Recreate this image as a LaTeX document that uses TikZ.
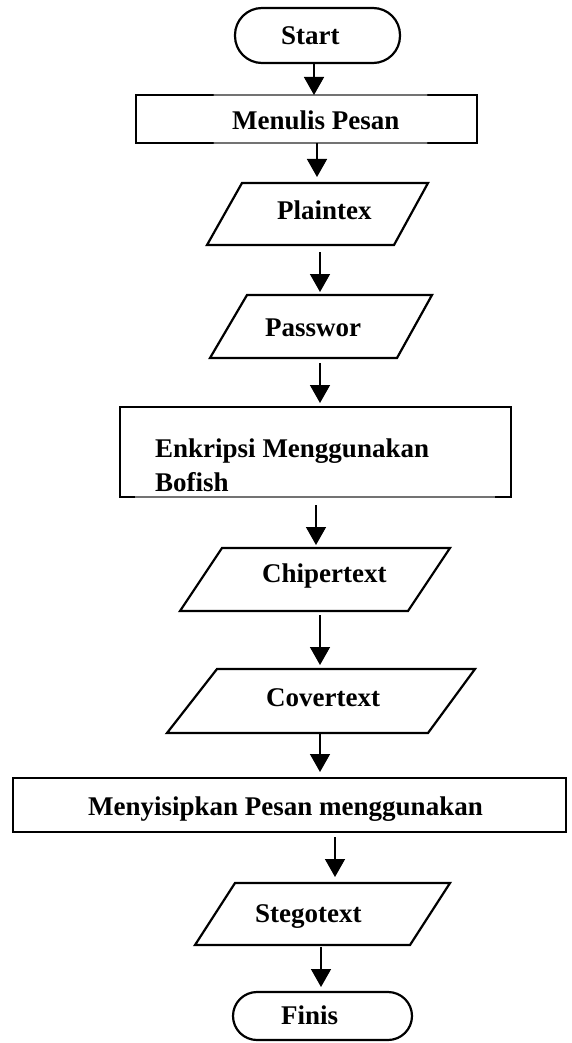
\documentclass[tikz,border=0pt]{standalone}
\usepackage{fontspec}
\setmainfont{Liberation Serif}
\usetikzlibrary{arrows.meta}
\begin{document}
\begin{tikzpicture}[x=1pt,y=-1pt,
  shp/.style={line width=2.2pt, black, line join=miter},
  thin/.style={line width=1.2pt, black!55},
  bx/.style={draw=none, rectangle, inner sep=0pt, outer sep=0pt},
  term/.style={rectangle, draw, line width=2.2pt, inner sep=0pt, outer sep=0pt},
  txt/.style={anchor=base west, inner sep=0pt, font=\fontsize{27}{32}\selectfont\bfseries},
  arr/.style={line width=1.5pt, -{Triangle[length=18pt,width=20pt]}}]
\fill[white] (0,0) rectangle (571,1043);
\useasboundingbox (0,0) rectangle (571,1043);

% Start
\node[term, rounded corners=27pt, minimum width=165pt, minimum height=55pt] (start) at (317.5,35.5) {};
\node[txt] (tstart) at (281,45) {Start};

% Menulis Pesan
\node[bx, minimum width=341pt, minimum height=48pt] (menulis) at (306.5,119) {};
\draw[thin] (menulis.north west) -- (menulis.north east);
\draw[thin] (menulis.south west) -- (menulis.south east);
\draw[shp, line cap=round] ([xshift=77pt]menulis.north west) -- (menulis.north west) -- (menulis.south west) -- ++(77,0);
\draw[shp, line cap=round] ([xshift=-49pt]menulis.north east) -- (menulis.north east) -- (menulis.south east) -- ++(-49,0);
\node[txt] (tmenulis) at (232,130) {Menulis Pesan};

% Plaintex
\node[bx, minimum width=221pt, minimum height=62pt] (plain) at (317.5,214) {};
\draw[shp] ([xshift=35pt]plain.north west) -- (plain.north east) -- ([xshift=-34pt]plain.south east) -- (plain.south west) -- cycle;
\node[txt] (tplain) at (277,219) {Plaintex};

% Passwor
\node[bx, minimum width=222pt, minimum height=63pt] (pass) at (321,326.5) {};
\draw[shp] ([xshift=37pt]pass.north west) -- (pass.north east) -- ([xshift=-35pt]pass.south east) -- (pass.south west) -- cycle;
\node[txt] (tpass) at (265,336) {Passwor};

% Enkripsi
\node[bx, minimum width=391pt, minimum height=90pt] (enk) at (315.5,452) {};
\draw[thin] (enk.south west) -- (enk.south east);
\draw[shp] ([xshift=15pt]enk.south west) -- (enk.south west) -- (enk.north west) -- (enk.north east) -- (enk.south east) -- ++(-16,0);
\node[txt] (tenk1) at (155,457) {Enkripsi Menggunakan};
\node[txt] (tenk2) at (155,491) {Bofish};

% Chipertext
\node[bx, minimum width=270pt, minimum height=63pt] (chip) at (315,579.5) {};
\draw[shp] ([xshift=42pt]chip.north west) -- (chip.north east) -- ([xshift=-42pt]chip.south east) -- (chip.south west) -- cycle;
\node[txt] (tchip) at (262,582) {Chipertext};

% Covertext
\node[bx, minimum width=308pt, minimum height=64pt] (cover) at (321,701) {};
\draw[shp] ([xshift=50pt]cover.north west) -- (cover.north east) -- ([xshift=-47pt]cover.south east) -- (cover.south west) -- cycle;
\node[txt] (tcover) at (266,706) {Covertext};

% Menyisipkan
\node[bx, draw, line width=2.2pt, minimum width=553pt, minimum height=54pt] (meny) at (289.5,805) {};
\node[txt] (tmeny) at (88,815) {Menyisipkan Pesan menggunakan};

% Stegotext
\node[bx, minimum width=255pt, minimum height=62pt] (steg) at (322.5,914) {};
\draw[shp] ([xshift=40pt]steg.north west) -- (steg.north east) -- ([xshift=-40pt]steg.south east) -- (steg.south west) -- cycle;
\node[txt] (tsteg) at (255,922) {Stegotext};

% Finis
\node[term, rounded corners=24pt, minimum width=179pt, minimum height=48pt] (finis) at (322.5,1016) {};
\node[txt] (tfinis) at (281,1024) {Finis};

% Connectors
\draw[arr] ([xshift=-3.5pt]start.south) -- ([xshift=-3.5pt]start.south |- menulis.north);
\draw[arr, shorten >=6pt] ([xshift=10.5pt]menulis.south) -- ([xshift=10.5pt]menulis.south |- plain.north);
\draw[arr, shorten <=7pt, shorten >=3pt] ([xshift=2.5pt]plain.south) -- ([xshift=2.5pt]plain.south |- pass.north);
\draw[arr, shorten <=5pt, shorten >=4pt] ([xshift=-1pt]pass.south) -- ([xshift=-1pt]pass.south |- enk.north);
\draw[arr, shorten <=8pt, shorten >=3pt] ([xshift=0.5pt]enk.south) -- ([xshift=0.5pt]enk.south |- chip.north);
\draw[arr, shorten <=4pt, shorten >=4pt] ([xshift=5pt]chip.south) -- ([xshift=5pt]chip.south |- cover.north);
\draw[arr, shorten >=6pt] ([xshift=-1pt]cover.south) -- ([xshift=-1pt]cover.south |- meny.north);
\draw[arr, shorten <=5pt, shorten >=6pt] ([xshift=45.5pt]meny.south) -- ([xshift=45.5pt]meny.south |- steg.north);
\draw[arr, shorten <=2pt, shorten >=5pt] ([xshift=-1.5pt]steg.south) -- ([xshift=-1.5pt]steg.south |- finis.north);
\end{tikzpicture}
\end{document}
